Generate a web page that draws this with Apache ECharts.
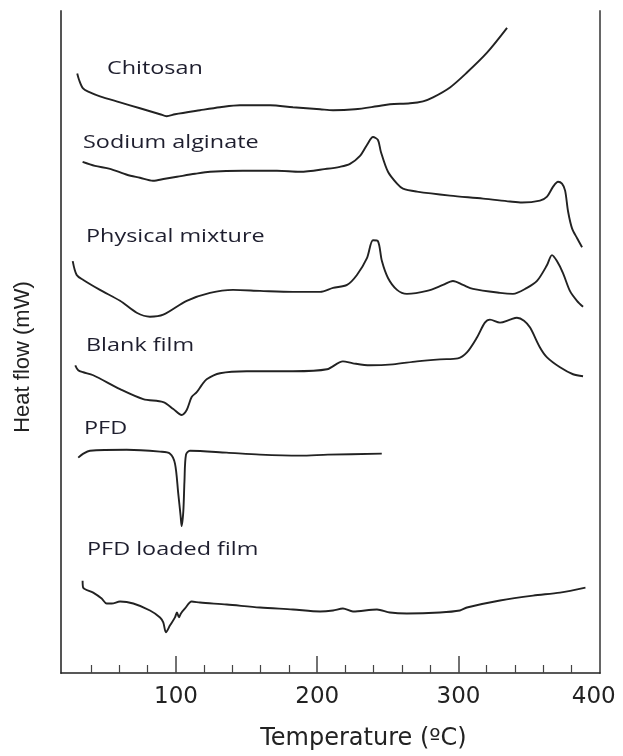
<!DOCTYPE html>
<html>
<head>
<meta charset="utf-8">
<title>DSC thermograms</title>
<script src="https://cdn.jsdelivr.net/npm/echarts@6/dist/echarts.min.js"></script>
<style>
  html, body { margin: 0; padding: 0; background: #fff; }
  #chart { width: 623px; height: 756px; }
</style>
</head>
<body>
<div id="chart"></div>
<script>
// DSC thermograms: [temperature (°C), heat flow (mW, curves offset vertically)]
const chitosan = [[30.1,60.4],[31.3,59.8],[34.2,58.9],[39.1,58.5],[46.2,58.1],[60.4,57.5],[74.5,56.9],[88.7,56.3],[93.4,56.1],[99.3,56.3],[117.0,56.7],[131.2,57.0],[145.3,57.2],[166.6,57.2],[182.8,57.0],[202.0,56.8],[211.2,56.7],[226.7,56.8],[242.3,57.1],[251.5,57.3],[265.7,57.4],[274.9,57.6],[282.0,58.0],[294.0,59.0],[306.0,60.5],[320.2,62.5],[334.4,65.0]];

const sodiumAlginate = [[33.9,51.5],[42.6,51.1],[53.3,50.8],[65.3,50.2],[74.5,49.9],[83.7,49.6],[92.2,49.8],[100.7,50.0],[113.5,50.3],[124.1,50.5],[147.4,50.6],[171.5,50.6],[187.8,50.5],[206.9,50.8],[216.1,51.0],[223.2,51.3],[230.3,52.1],[235.2,53.2],[239.5,54.0],[243.0,53.7],[245.1,52.5],[250.1,50.5],[256.5,49.3],[260.7,48.8],[270.6,48.5],[294.0,48.1],[317.4,47.8],[336.5,47.5],[345.0,47.4],[357.7,47.6],[362.7,48.0],[367.0,49.0],[370.5,49.5],[373.3,49.3],[375.5,48.6],[377.6,46.5],[380.4,44.8],[384.0,43.8],[387.5,42.9]];

const physicalMixture = [[26.9,41.5],[29.7,40.1],[34.4,39.6],[46.2,38.6],[60.4,37.5],[72.2,36.3],[81.6,35.9],[91.0,36.1],[107.6,37.5],[124.1,38.3],[140.4,38.6],[159.5,38.5],[182.8,38.4],[202.0,38.4],[211.2,38.8],[221.1,39.1],[228.1,40.1],[235.2,41.8],[239.5,43.6],[243.0,43.5],[245.8,41.5],[250.1,39.8],[256.5,38.6],[263.5,38.2],[277.7,38.5],[289.0,39.1],[296.1,39.5],[303.2,39.1],[310.3,38.7],[329.4,38.3],[338.6,38.2],[348.5,38.8],[355.6,39.5],[362.7,41.1],[366.2,42.1],[369.7,41.5],[374.0,40.3],[378.9,38.5],[383.9,37.5],[388.2,36.9]];

const blankFilm = [[28.7,31.0],[30.8,30.5],[34.4,30.3],[41.4,30.0],[60.4,28.6],[76.8,27.6],[91.0,27.3],[98.1,26.6],[104.0,26.0],[107.6,26.5],[111.1,27.8],[114.7,28.3],[118.2,29.0],[121.7,29.6],[131.2,30.2],[150.1,30.4],[182.8,30.4],[206.9,30.6],[218.2,31.4],[225.3,31.2],[237.3,31.0],[253.6,31.1],[270.6,31.4],[286.9,31.6],[299.6,31.7],[306.0,32.3],[313.1,33.8],[318.7,35.3],[322.3,35.6],[329.4,35.3],[336.5,35.6],[341.4,35.8],[346.4,35.5],[350.7,34.8],[357.7,32.8],[362.7,31.8],[371.9,30.8],[381.1,30.1],[388.2,29.9]];

const pfd = [[30.8,21.7],[34.4,22.1],[39.1,22.4],[65.1,22.5],[88.7,22.3],[95.8,22.1],[99.3,21.1],[101.6,18.1],[103.3,15.8],[104.0,14.8],[105.2,16.3],[106.0,19.3],[107.1,22.0],[109.9,22.4],[135.9,22.2],[159.5,22.0],[187.8,21.9],[207.6,22.0],[245.7,22.1]];

const pfdLoadedFilm = [[33.9,9.3],[34.3,8.6],[41.4,8.1],[47.4,7.5],[50.9,7.0],[54.5,7.0],[60.4,7.2],[69.8,7.0],[81.6,6.3],[88.7,5.6],[91.0,5.1],[92.9,4.1],[95.8,4.8],[99.3,5.6],[100.7,6.1],[102.1,5.6],[103.5,6.0],[106.4,6.5],[111.1,7.2],[117.0,7.1],[135.9,6.9],[159.5,6.6],[182.8,6.4],[202.0,6.2],[211.2,6.3],[218.2,6.5],[225.3,6.2],[242.3,6.4],[251.5,6.1],[263.5,6.0],[286.9,6.1],[301.0,6.3],[306.0,6.6],[329.4,7.3],[352.8,7.8],[371.9,8.1],[389.9,8.6]];

const curveNames = ['Chitosan', 'Sodium alginate', 'Physical mixture', 'Blank film', 'PFD', 'PFD loaded film'];
const curves = [chitosan, sodiumAlginate, physicalMixture, blankFilm, pfd, pfdLoadedFilm];

// where each curve name sits: [temperature, heat flow] of the text's left edge
const nameAnchors = [[51.1,60.85],[34.2,53.45],[36.3,43.9],[36.3,32.95],[34.9,24.55],[37.0,12.4]];

// axis scale and ticks
const xMin = 18.6, xMax = 400.2;
const yMin = 0, yMax = 66.7;
const majorTicks = [100, 200, 300];
const tickLabels = [100, 200, 300, 400];
const minorTicks = [40, 60, 80, 120, 140, 160, 180, 220, 240, 260, 280, 320, 340, 360, 380];

const chart = echarts.init(document.getElementById('chart'), null, { renderer: 'canvas' });

const lineColor = '#222';

chart.setOption({
  animation: false,
  backgroundColor: '#fff',
  grid: { left: 61, right: 23, top: 11, bottom: 78 },
  xAxis: [
    {
      type: 'value', min: xMin, max: xMax,
      name: 'Temperature (ºC)', nameLocation: 'middle', nameGap: 54,
      nameTextStyle: { fontFamily: 'DejaVu Sans', fontSize: 24, color: '#222', padding: [0, 0, 0, 66] },
      axisLine: { show: true, lineStyle: { color: '#222', width: 1.5 } },
      axisTick: { show: true, inside: true, length: 17, customValues: majorTicks, lineStyle: { color: '#444', width: 1.5 } },
      axisLabel: {
        show: true, customValues: tickLabels, fontFamily: 'DejaVu Sans', fontSize: 23, color: '#222', margin: 13,
        // the last label sits a little inside the right frame line
        formatter: v => (v === 400 ? '{edge|' + v + '}' : String(v)),
        rich: { edge: { fontFamily: 'DejaVu Sans', fontSize: 23, color: '#222', padding: [0, 12, 0, 0] } }
      },
      splitLine: { show: false }
    },
    {
      type: 'value', min: xMin, max: xMax, position: 'bottom',
      axisLine: { show: false },
      axisTick: { show: true, inside: true, length: 8, customValues: minorTicks, lineStyle: { color: '#444', width: 1.2 } },
      axisLabel: { show: false },
      splitLine: { show: false }
    }
  ],
  yAxis: [
    {
      type: 'value', min: yMin, max: yMax, position: 'left',
      name: 'Heat flow (mW)', nameLocation: 'middle', nameGap: 27, nameRotate: 90,
      nameTextStyle: { fontFamily: 'Liberation Sans', fontSize: 22, color: '#222', padding: [0, 30, 0, 0] },
      axisLine: { show: true, lineStyle: { color: '#555', width: 2 } },
      axisTick: { show: false }, axisLabel: { show: false }, splitLine: { show: false }
    },
    {
      type: 'value', min: yMin, max: yMax, position: 'right',
      axisLine: { show: true, lineStyle: { color: '#666', width: 2 } },
      axisTick: { show: false }, axisLabel: { show: false }, splitLine: { show: false }
    }
  ],
  series: curves.map((data, i) => ({
    name: curveNames[i],
    type: 'line',
    xAxisIndex: 0, yAxisIndex: 0,
    data: data,
    smooth: 0.3,
    showSymbol: false,
    lineStyle: { color: lineColor, width: 1.9 }
  }))
});

// curve names, placed in data coordinates and widened like the figure's lettering
chart.setOption({
  graphic: nameAnchors.map((a, i) => {
    const p = chart.convertToPixel({ xAxisIndex: 0, yAxisIndex: 0 }, a);
    return {
      type: 'text',
      x: p[0], y: p[1],
      scaleX: 1.3,
      silent: true,
      style: {
        text: curveNames[i],
        x: 0, y: 0,
        fill: '#1e1e2e',
        font: '18px "Open Sans"',
        align: 'left',
        verticalAlign: 'middle'
      }
    };
  })
});
</script>
</body>
</html>
